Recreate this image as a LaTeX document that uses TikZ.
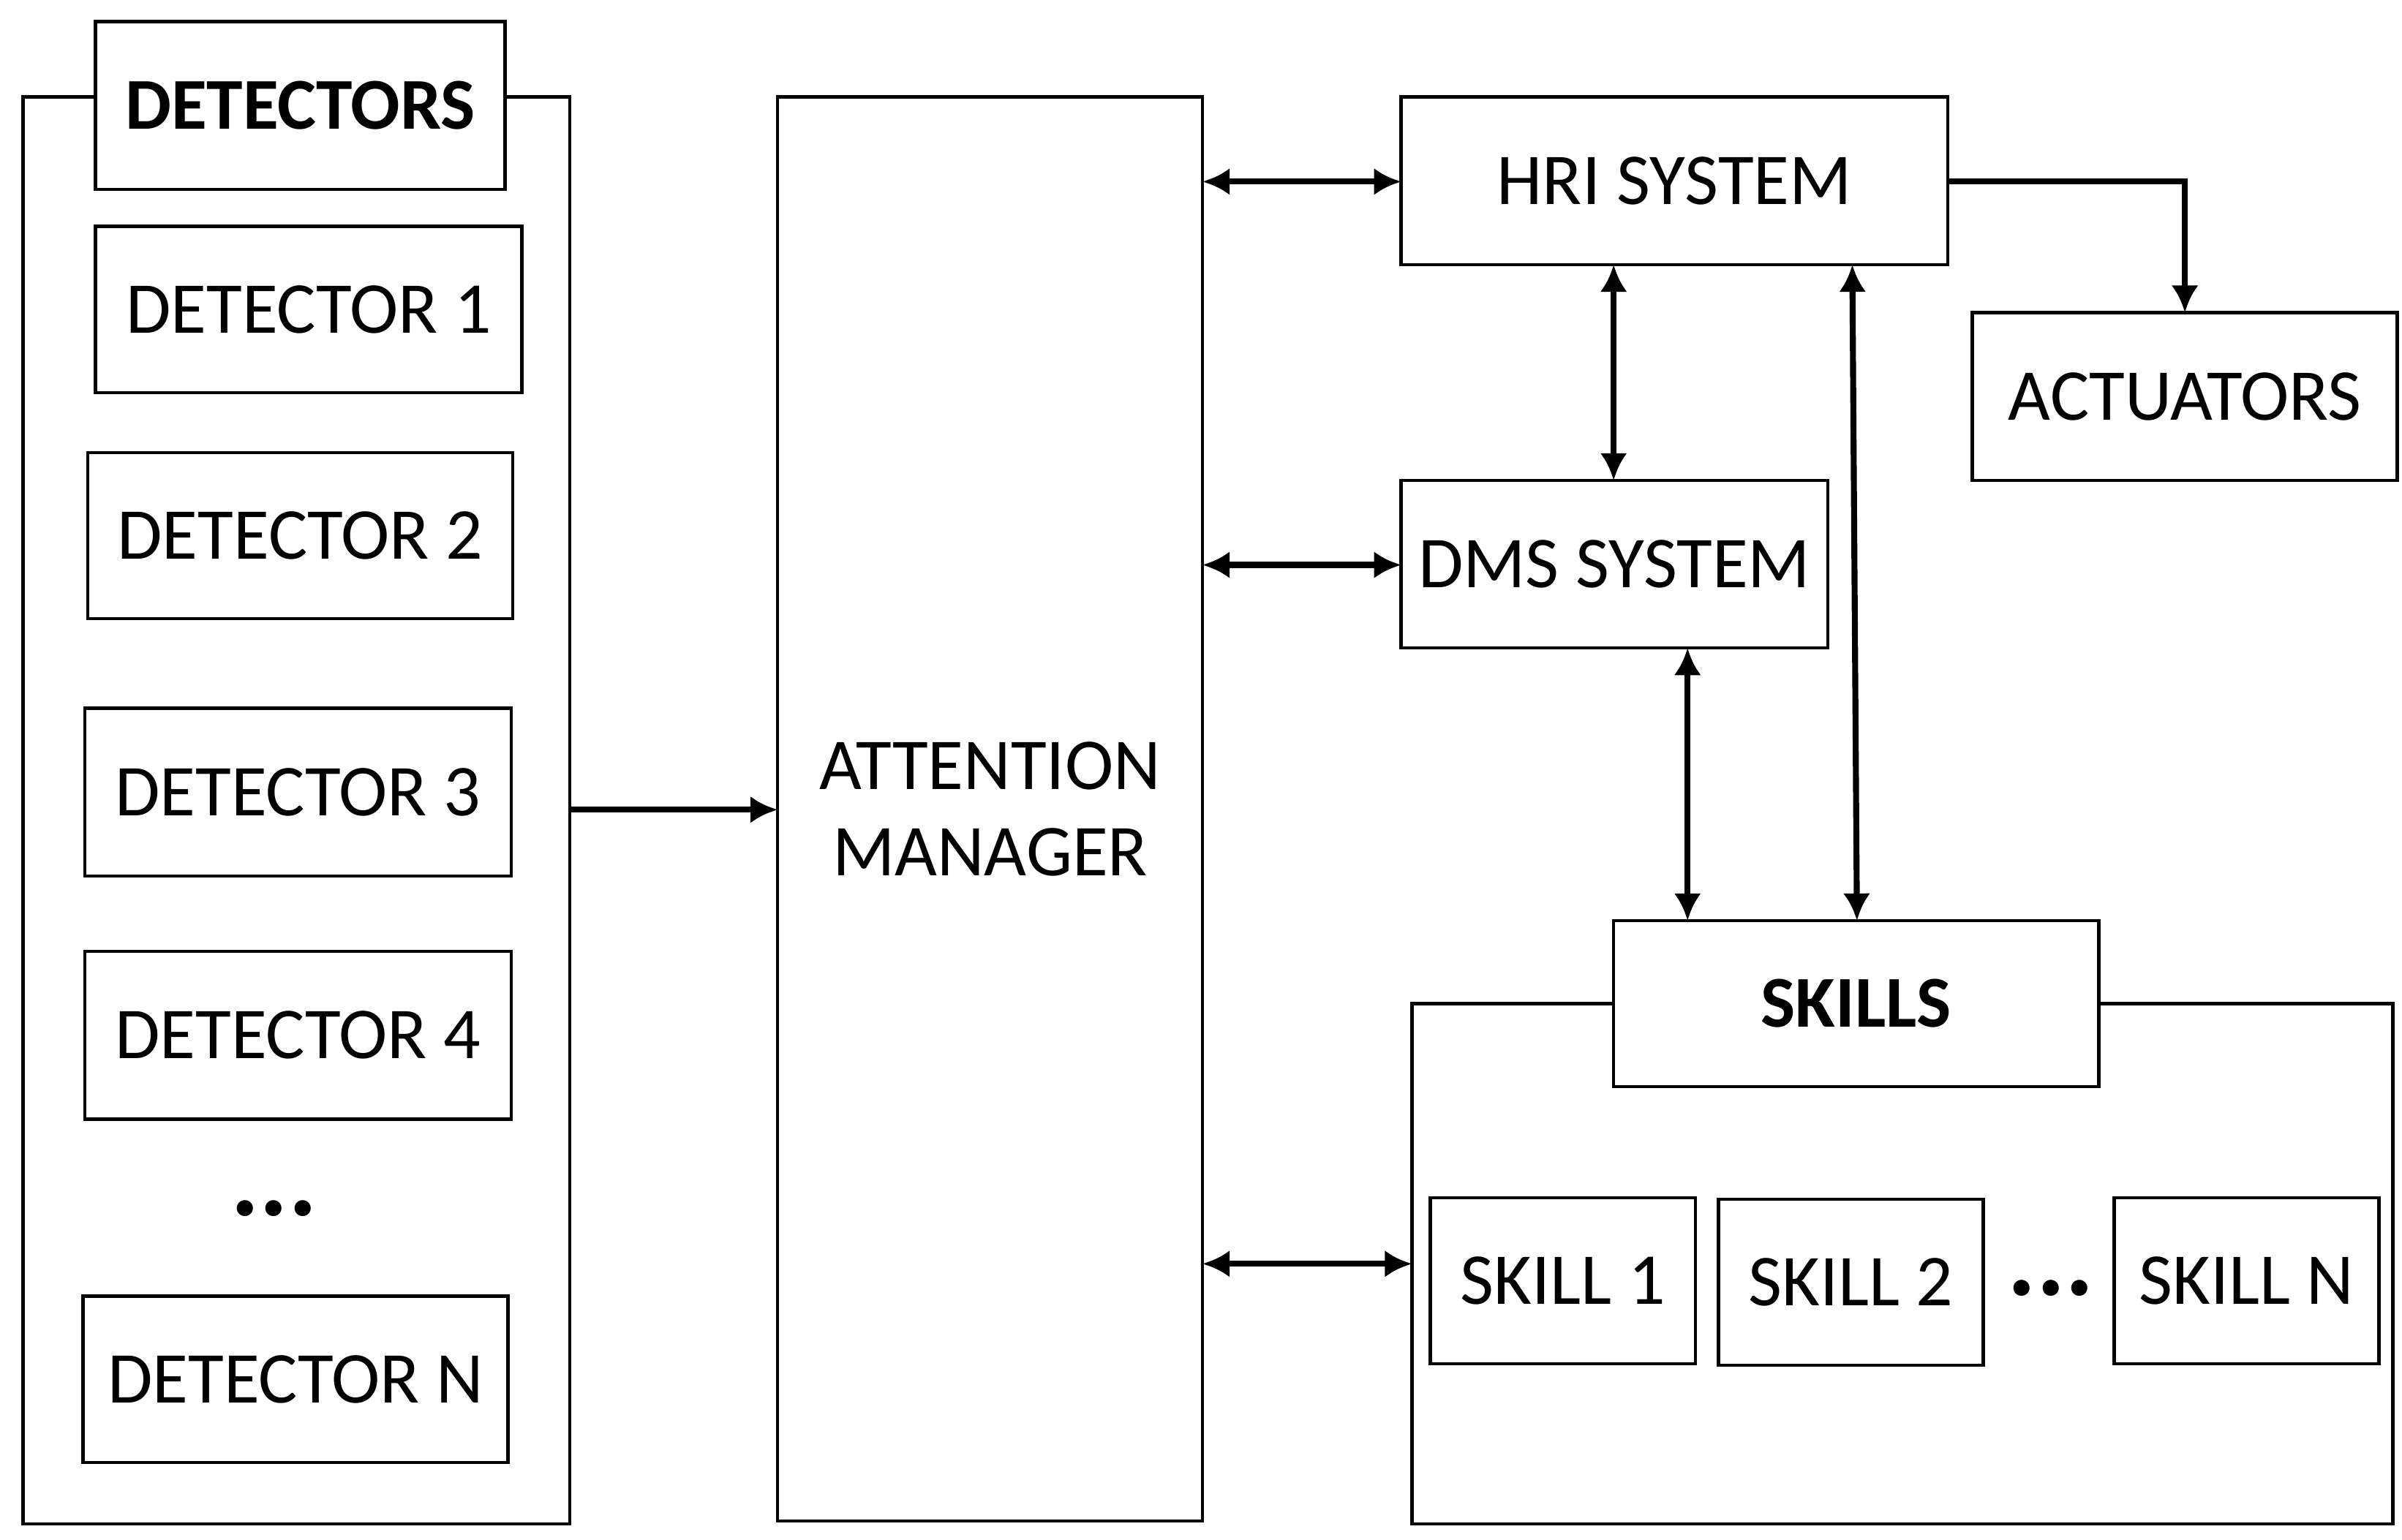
\documentclass[tikz,border=0pt]{standalone}
\usepackage{fontspec}
\setmainfont{Carlito}
\usetikzlibrary{arrows.meta}
\begin{document}
\begin{tikzpicture}[x=0.01cm,y=-0.01cm,
  box/.style={draw,line width=0.6pt,fill=white},
  lbl/.style={font=\fontsize{13.5}{16}\selectfont,align=center},
  conn/.style={line width=1.1pt,-{Latex[length=5pt,width=5pt]}},
  bi/.style={line width=1.1pt,{Latex[length=5pt,width=5pt]}-{Latex[length=5pt,width=5pt]}}]
\useasboundingbox (0,0) rectangle (1560,1000.4);
\def\bx#1#2#3#4#5#6{\draw[box] (#2,#3) rectangle (#4,#5); \node[lbl] (#1) at ({(#2+#4)/2},{(#3+#5)/2}) {#6};
 \coordinate (#1nw) at (#2,#3); \coordinate (#1se) at (#4,#5);}
\bx{dout}{15}{63}{370}{990}{}
\bx{dhead}{62}{14}{328}{123}{\textbf{DETECTORS}}
\bx{d1}{62}{147}{339}{255}{DETECTOR 1}
\bx{d2}{57}{294}{333}{402}{DETECTOR 2}
\bx{d3}{55}{460}{332}{569}{DETECTOR 3}
\bx{d4}{55}{618}{332}{727}{DETECTOR 4}
\node[font=\fontsize{20}{20}\selectfont\bfseries] (ddots) at (178,785) {...};
\bx{dn}{54}{842}{330}{950}{DETECTOR N}
\bx{am}{505}{63}{781}{988}{ATTENTION\\MANAGER}
\bx{hri}{910}{63}{1265}{172}{HRI SYSTEM}
\bx{act}{1281}{203}{1557}{312}{ACTUATORS}
\bx{dms}{910}{312}{1187}{421}{DMS SYSTEM}
\bx{sout}{917}{652}{1554}{990}{}
\bx{shead}{1048}{598}{1363}{706}{\textbf{SKILLS}}
\bx{s1}{929}{778}{1101}{886}{SKILL 1}
\bx{s2}{1116}{779}{1288}{887}{SKILL 2}
\node[font=\fontsize{20}{20}\selectfont\bfseries] (sdots) at (1332,837) {...};
\bx{sn}{1373}{778}{1545}{886}{SKILL N}
\coordinate (a1) at (370,526); \coordinate (a2) at (505,526);
\draw[conn] (a1) -- (a2);
\coordinate (b1) at (781,118); \coordinate (b2) at (910,118);
\draw[bi] (b1) -- (b2);
\coordinate (c1) at (781,367); \coordinate (c2) at (910,367);
\draw[bi] (c1) -- (c2);
\coordinate (e1) at (781,821); \coordinate (e2) at (917,821);
\draw[bi] (e1) -- (e2);
\coordinate (f1) at (1265,118); \coordinate (f2) at (1419,118); \coordinate (f3) at (1419,203);
\draw[conn] (f1) -- (f2) -- (f3);
\coordinate (g1) at (1048,172); \coordinate (g2) at (1048,312);
\draw[bi] (g1) -- (g2);
\coordinate (h1) at (1096,421); \coordinate (h2) at (1096,598);
\draw[bi] (h1) -- (h2);
\coordinate (i1) at (1203,172); \coordinate (i2) at (1206,598);
\draw[bi] (i1) -- (i2);
\end{tikzpicture}
\end{document}
